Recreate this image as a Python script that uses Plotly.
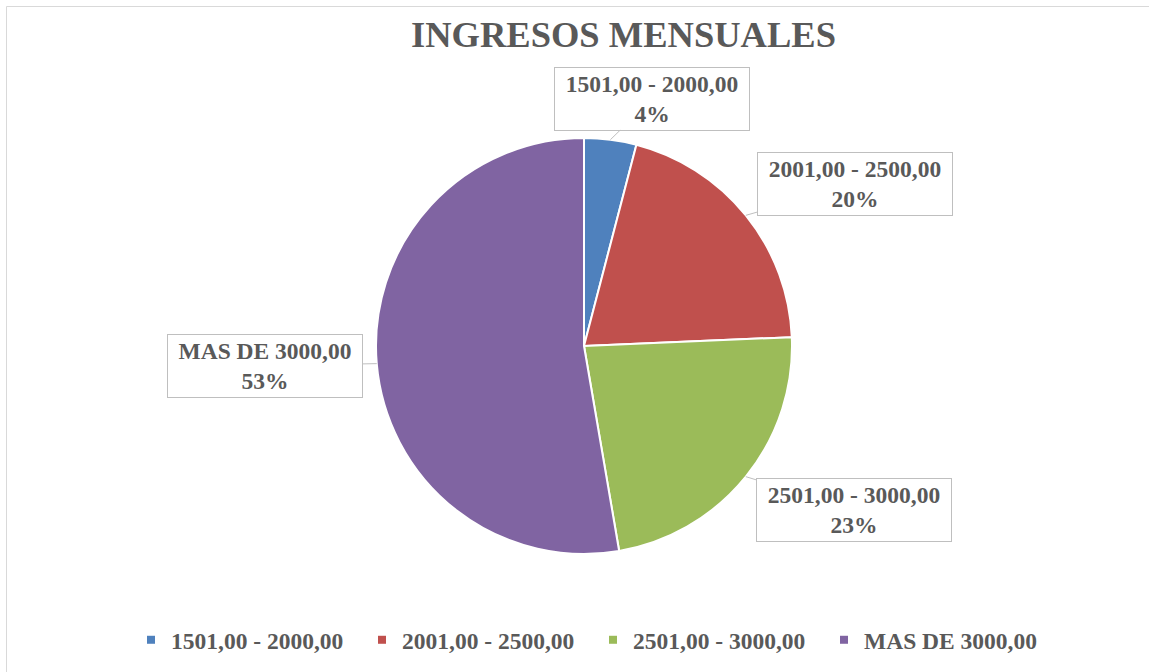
import math
import plotly.graph_objects as go

categories = ["1501,00 - 2000,00", "2001,00 - 2500,00", "2501,00 - 3000,00", "MAS DE 3000,00"]
counts = [3, 15, 17, 39]
colors = ["#4F81BD", "#C0504D", "#9BBB59", "#8064A2"]
title_text = "INGRESOS MENSUALES"

# label box offsets (pixels) from the slice edge at mid-angle
label_dx = [42, 109, 108, -112]
label_dy = [-41, -31, 33, 2]

W, H = 1149, 672
FONT = "Liberation Serif"
TXT = "#595959"

dom_x = [376 / W, 792 / W]
dom_y = [118 / H, 534 / H]

fig = go.Figure()
fig.add_trace(go.Pie(
    labels=categories, values=counts, sort=False, direction="clockwise",
    rotation=0, marker=dict(colors=colors, line=dict(color="white", width=2)),
    textinfo="none", hoverinfo="skip", showlegend=False,
    domain=dict(x=dom_x, y=dom_y),
))

# legend entries with small square swatches
for cat, col in zip(categories, colors):
    fig.add_trace(go.Scatter(
        x=[None], y=[None], mode="markers", name=f"<b>{cat}</b>",
        marker=dict(symbol="square", size=8, color=col, line=dict(width=0)),
        hoverinfo="skip",
    ))

# data labels computed from the pie geometry
total = sum(counts)
cx = (dom_x[0] + dom_x[1]) / 2 * W
cy = (dom_y[0] + dom_y[1]) / 2 * H
R = min((dom_x[1] - dom_x[0]) * W, (dom_y[1] - dom_y[0]) * H) / 2
cum = 0
annotations = []
for cat, v, dx, dy in zip(categories, counts, label_dx, label_dy):
    mid = (cum + v / 2) / total * 2 * math.pi
    cum += v
    tx = cx + R * math.sin(mid)
    ty = cy + R * math.cos(mid)
    pct = round(100 * v / total)
    annotations.append(dict(
        x=tx / W, y=ty / H, xref="paper", yref="paper",
        text=f"<b>{cat}<br>{pct}%</b>",
        showarrow=True, arrowhead=0, arrowwidth=1, arrowcolor="#BFBFBF",
        ax=dx, ay=dy, standoff=0,
        bordercolor="#BFBFBF", borderwidth=1, borderpad=1, bgcolor="white",
        width=192, height=60, align="center",
        font=dict(family=FONT, size=23.5, color=TXT),
    ))

annotations.append(dict(
    x=623 / W, y=(H - 34) / H, xref="paper", yref="paper",
    text=f"<b>{title_text}</b>", showarrow=False,
    xanchor="center", yanchor="middle",
    font=dict(family=FONT, size=36.5, color=TXT),
))

fig.update_layout(
    width=W, height=H,
    margin=dict(l=0, r=0, t=0, b=0),
    paper_bgcolor="white", plot_bgcolor="white",
    xaxis=dict(visible=False), yaxis=dict(visible=False),
    annotations=annotations,
    legend=dict(
        orientation="h", x=593 / W, xanchor="center", y=(H - 640) / H, yanchor="middle",
        font=dict(family=FONT, size=23.5, color=TXT), entrywidth=186,
        bgcolor="rgba(0,0,0,0)",
    ),
    showlegend=True,
    shapes=[dict(type="rect", xref="paper", yref="paper",
                 x0=6.5 / W, x1=1.02, y0=-0.02, y1=1 - 6.5 / H,
                 line=dict(color="#D9D9D9", width=1), layer="below")],
)

fig.write_html("out.html", config={"displayModeBar": False},
               post_script="document.body.style.margin='0';")
